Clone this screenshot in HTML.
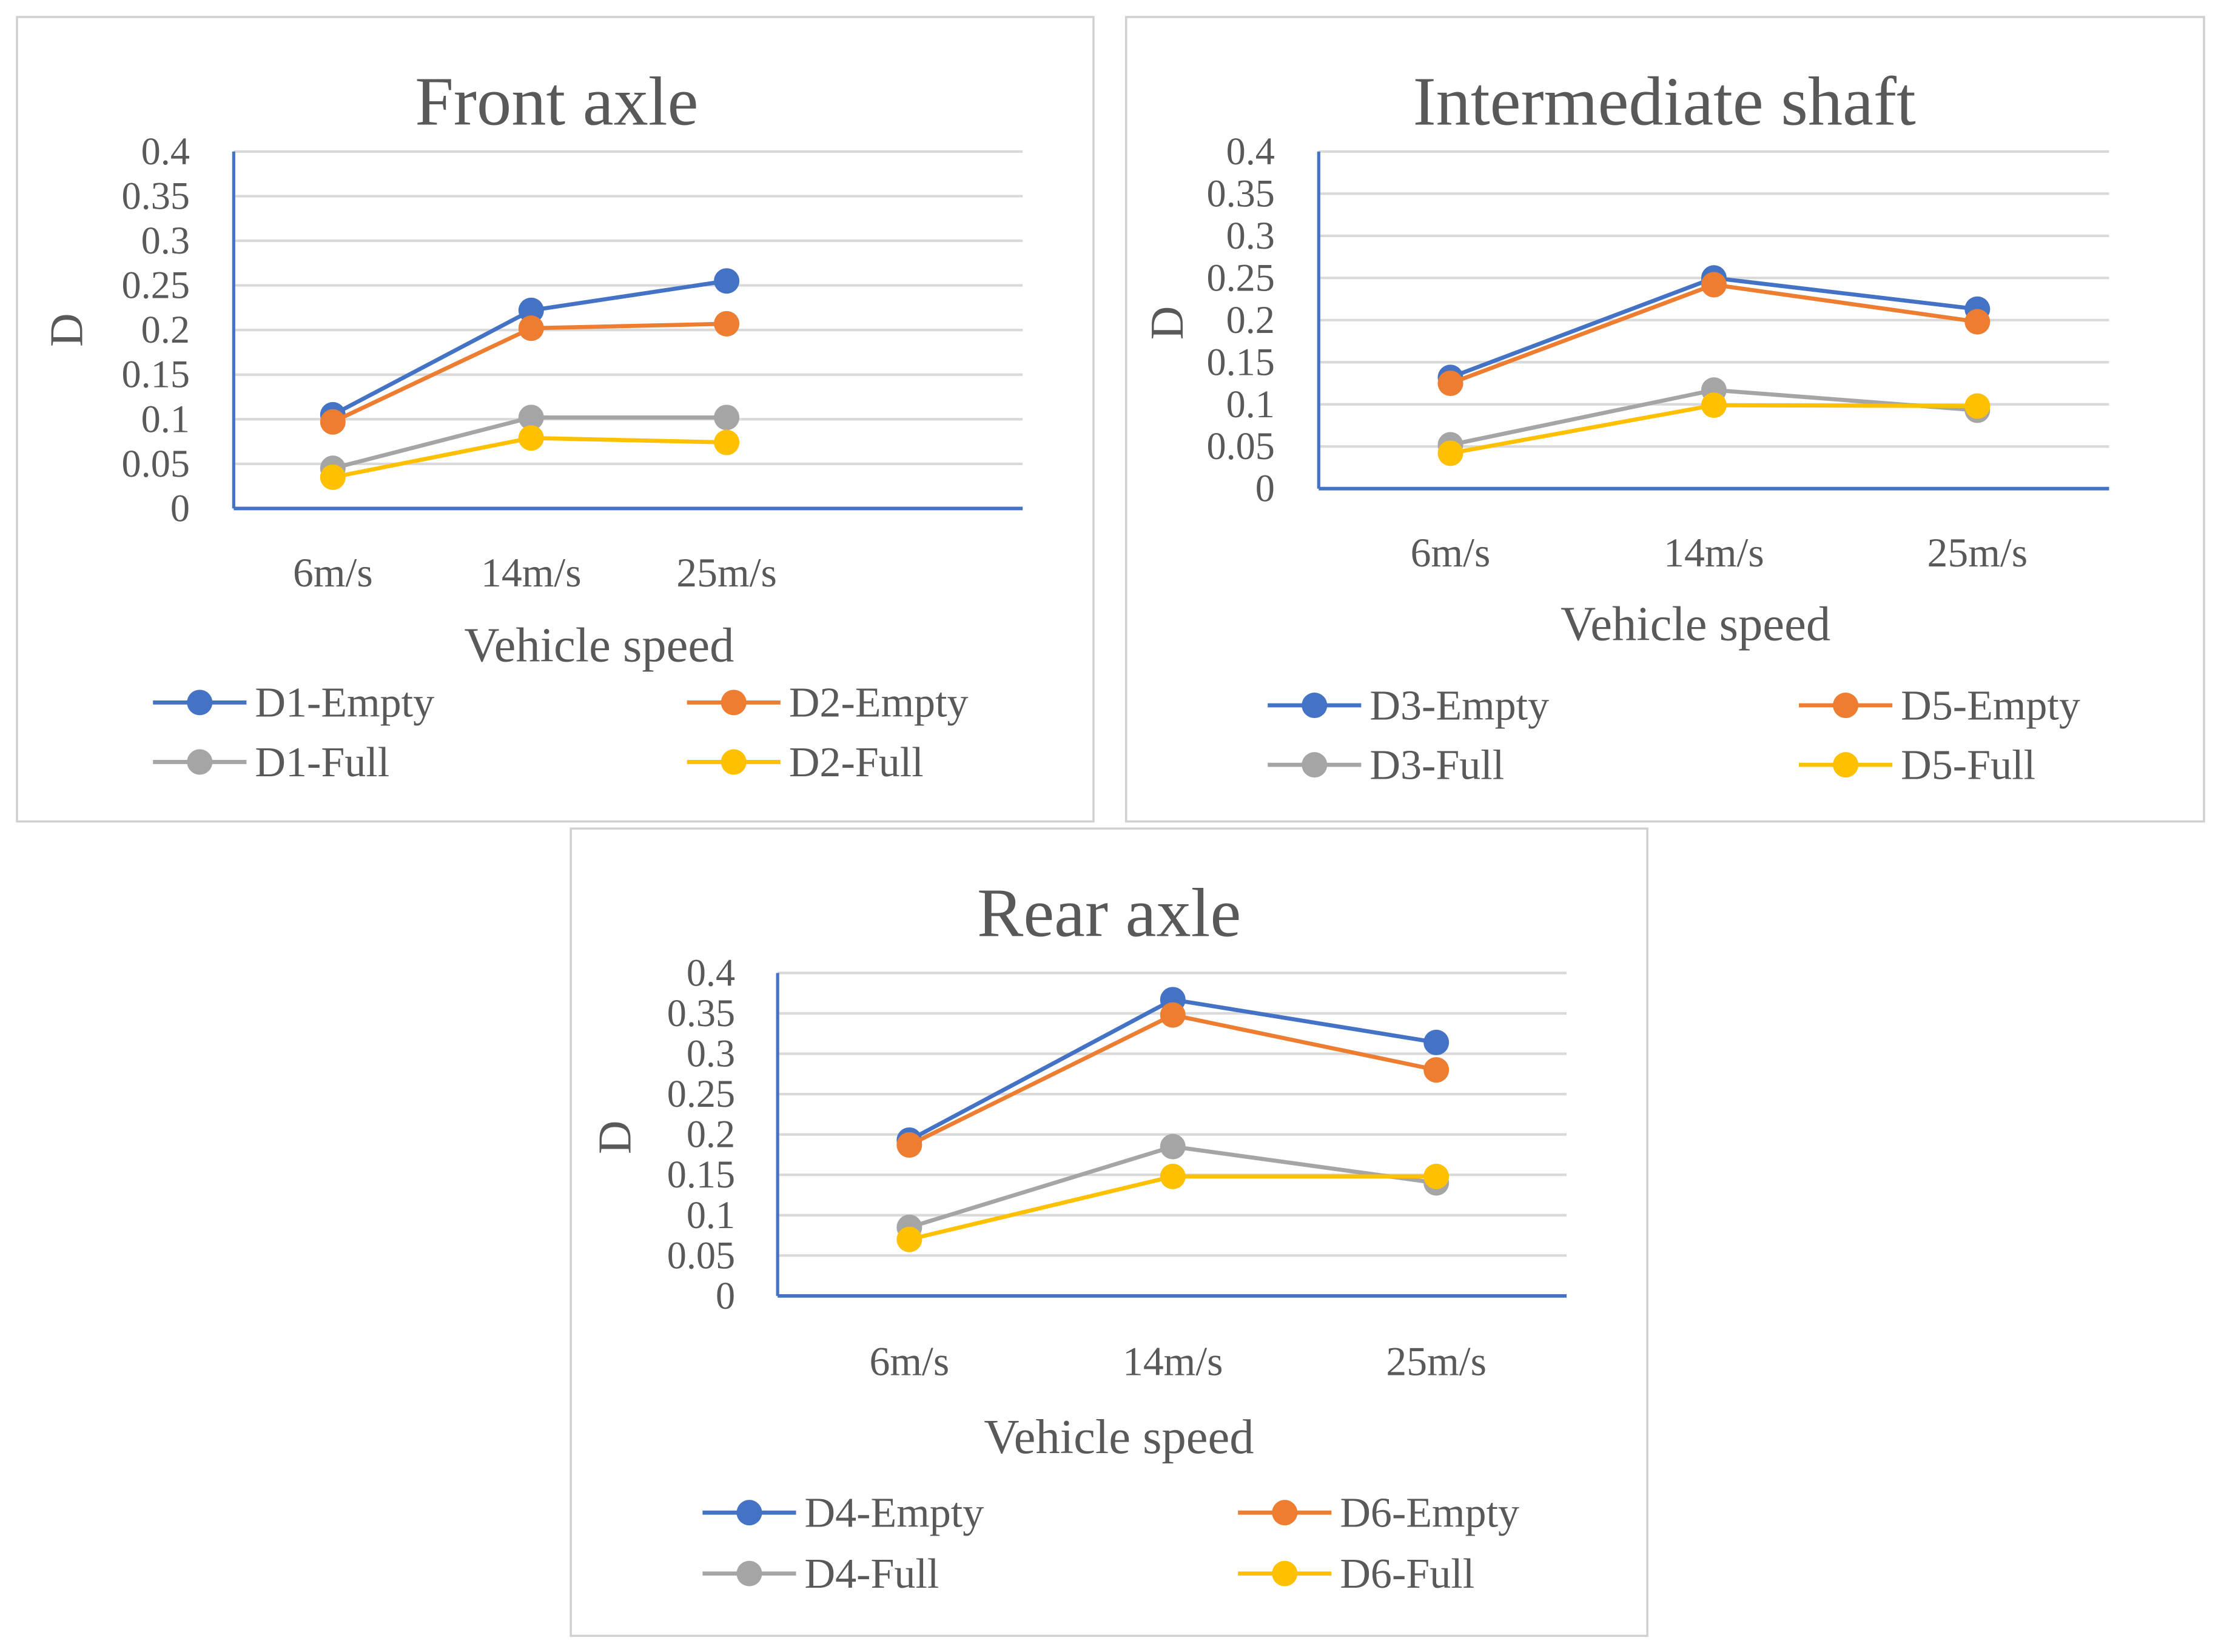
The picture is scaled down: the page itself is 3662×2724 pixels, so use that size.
<!DOCTYPE html>
<html><head><meta charset="utf-8"><style>
html,body{margin:0;padding:0;background:#fff;}
svg{display:block;}
text{font-family:"Liberation Serif",serif;fill:#595959;}
</style></head><body>
<svg id="fig" width="3662" height="2724" viewBox="0 0 1568 1166.4" preserveAspectRatio="none" xmlns="http://www.w3.org/2000/svg"></svg>
<script>
const categories = ["6m/s","14m/s","25m/s"];
const yTicks = [0,0.05,0.1,0.15,0.2,0.25,0.3,0.35,0.4];
const yTickLabels = ["0","0.05","0.1","0.15","0.2","0.25","0.3","0.35","0.4"];
const seriesColors = ["#4472C4","#ED7D31","#A5A5A5","#FFC000"];

const frontNames = ["D1-Empty","D2-Empty","D1-Full","D2-Full"];
const frontD1Empty = [0.105,0.222,0.255];
const frontD2Empty = [0.097,0.202,0.207];
const frontD1Full = [0.045,0.102,0.102];
const frontD2Full = [0.035,0.079,0.074];

const interNames = ["D3-Empty","D5-Empty","D3-Full","D5-Full"];
const interD3Empty = [0.132,0.250,0.213];
const interD5Empty = [0.125,0.242,0.198];
const interD3Full = [0.052,0.117,0.093];
const interD5Full = [0.042,0.099,0.098];

const rearNames = ["D4-Empty","D6-Empty","D4-Full","D6-Full"];
const rearD4Empty = [0.193,0.367,0.314];
const rearD6Empty = [0.187,0.348,0.280];
const rearD4Full = [0.085,0.185,0.140];
const rearD6Full = [0.070,0.148,0.148];

const NS="http://www.w3.org/2000/svg";
const svg=document.getElementById('fig');
function mk(tag,attrs,parent){const e=document.createElementNS(NS,tag);for(const k in attrs)e.setAttribute(k,attrs[k]);(parent||svg).appendChild(e);return e;}

const panels=[
 {key:'front',title:'Front axle',box:[12,12,760,568],ax:165,top:107,bot:359,right:722,cx:[235,375,513],titleX:393,titleY:88,tickX:134,catY:414,vsX:423,vsY:467,dX:48,dY:233,
  leg:[507,549],legX:[108,485],names:frontNames,data:[frontD1Empty,frontD2Empty,frontD1Full,frontD2Full]},
 {key:'intermediate',title:'Intermediate shaft',box:[795,12,761,568],ax:931,top:107,bot:345,right:1489,cx:[1024,1210,1396],titleX:1175,titleY:88,tickX:900,catY:400,vsX:1197,vsY:452,dX:825,dY:228,
  leg:[509,551],legX:[895,1270],names:interNames,data:[interD3Empty,interD5Empty,interD3Full,interD5Full]},
 {key:'rear',title:'Rear axle',box:[403,585,760,570],ax:549,top:687,bot:915,right:1106,cx:[642,828,1014],titleX:783,titleY:661,tickX:519,catY:971,vsX:790,vsY:1026,dX:435,dY:803,
  leg:[1079,1122],legX:[496,874],names:rearNames,data:[rearD4Empty,rearD6Empty,rearD4Full,rearD6Full]}
];

panels.forEach(p=>{
 const g=mk('g',{});
 
 
 const b=mk('rect',{x:p.box[0],y:p.box[1],width:p.box[2],height:p.box[3],fill:'#fff',stroke:'#d0d0d0','stroke-width':1.5},g);
 
 
 const t=mk('text',{x:p.titleX,y:p.titleY,'text-anchor':'middle','font-size':49},g);
 t.textContent=p.title;
 
 
 const yS=v=>p.bot-(v/0.4)*(p.bot-p.top);
 yTicks.forEach((v,i)=>{
  if(v>0){const gl=mk('line',{x1:p.ax,x2:p.right,y1:yS(v),y2:yS(v),stroke:'#d9d9d9','stroke-width':1.8},g);
   
   }
  const tl=mk('text',{x:p.tickX,y:yS(v)+9,'text-anchor':'end','font-size':27.5},g);
  tl.textContent=yTickLabels[i];
  
  
 });
 const ya=mk('line',{x1:p.ax,x2:p.ax,y1:p.top,y2:p.bot,stroke:'#4472C4','stroke-width':2.2},g);
 
 
 const xa=mk('line',{x1:p.ax,x2:p.right,y1:p.bot,y2:p.bot,stroke:'#4472C4','stroke-width':2.5},g);
 
 
 categories.forEach((c,i)=>{
  const cl=mk('text',{x:p.cx[i],y:p.catY,'text-anchor':'middle','font-size':29},g);
  cl.textContent=c;
  
  
 });
 const vs=mk('text',{x:p.vsX,y:p.vsY,'text-anchor':'middle','font-size':34.5},g);
 vs.textContent='Vehicle speed';
 
 
 const d=mk('text',{x:p.dX+10,y:p.dY,'text-anchor':'middle','font-size':33,transform:`rotate(-90 ${p.dX+10} ${p.dY})`},g);
 d.textContent='D';
 
 
 p.data.forEach((vals,si)=>{
  const pts=vals.map((v,i)=>p.cx[i]+','+yS(v)).join(' ');
  const pl=mk('polyline',{points:pts,fill:'none',stroke:seriesColors[si],'stroke-width':2.9},g);
  
  
  vals.forEach((v,i)=>{
   const c=mk('circle',{cx:p.cx[i],cy:yS(v),r:9,fill:seriesColors[si]},g);
   
   
  });
 });
 p.names.forEach((n,si)=>{
  const lx=p.legX[si%2], ly=p.leg[Math.floor(si/2)]-11;
  const lg=mk('g',{},g);
  
  
  mk('line',{x1:lx,x2:lx+66,y1:ly,y2:ly,stroke:seriesColors[si],'stroke-width':2.9},lg);
  mk('circle',{cx:lx+33,cy:ly,r:9,fill:seriesColors[si]},lg);
  const lt=mk('text',{x:lx+72,y:ly+10,'font-size':30},lg);
  lt.textContent=n;
 });
});
</script>
</body></html>
